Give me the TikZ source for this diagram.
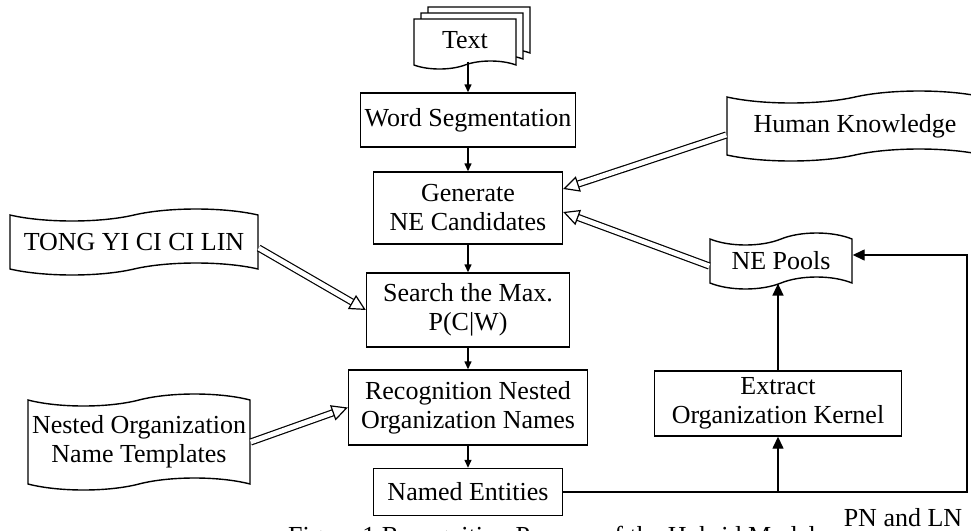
\documentclass[tikz,border=0pt]{standalone}
\usepackage{fontspec}
\setmainfont{Liberation Serif}
\usetikzlibrary{shapes.symbols,arrows.meta,calc}

\begin{document}
\begin{tikzpicture}[x=0.5pt,y=-0.5pt,
    every node/.style={font=\fontsize{13pt}{14.5pt}\selectfont},
    box/.style={draw, line width=0.7pt, fill=white, align=center, inner sep=0pt},
    paper/.style={tape, draw, line width=0.7pt, fill=white, align=center, inner sep=0pt, tape bend height=6pt},
    docpage/.style={paper, tape bend top=none, minimum width=51pt, minimum height=25pt, tape bend height=4pt},
    arr/.style={line width=0.7pt, -{Triangle[length=4pt,width=3.5pt]}},
    bigarr/.style={line width=0.7pt, -{Triangle[length=6pt,width=5.5pt]}},
    dblarr/.style={double, line width=0.6pt, double distance=2.4pt, -{Triangle[open, fill=white, length=8pt, width=8pt]}}]
    \useasboundingbox (0,0) rectangle (971,531);
    \clip (0,0) rectangle (971,531);
    % the stack of text pages
    \node[docpage] (txtC) at (479,28) {};
    \node[docpage] (txtB) at (472,34) {};
    \node[docpage] (txt) at (465,40) {Text};
    % main column
    \node[box, minimum width=107.5pt, minimum height=27pt] (ws) at (468,120) {Word Segmentation};
    \node[box, minimum width=94.5pt, minimum height=36pt] (gen) at (468,208) {Generate\\NE Candidates};
    \node[box, minimum width=101.5pt, minimum height=37pt] (srch) at (468,310) {Search the Max.\\P(C|W)};
    \node[box, minimum width=119.5pt, minimum height=37.5pt] (recog) at (468,407.5) {Recognition Nested\\Organization Names};
    \node[box, minimum width=94.5pt, minimum height=23.5pt] (named) at (468,492) {Named Entities};
    \node[box, minimum width=123.5pt, minimum height=32.5pt] (extract) at (778,403.5) {Extract\\Organization Kernel};
    % resources
    \node[paper, minimum width=128pt, minimum height=35pt] (hk) at (855,126) {Human Knowledge};
    \node[paper, minimum width=71pt, minimum height=28pt] (pools) at (781,261) {NE Pools};
    \node[paper, minimum width=124pt, minimum height=33pt] (tyccl) at (134,242) {TONG YI CI CI LIN};
    \node[paper, minimum width=111pt, minimum height=48pt] (nested) at (139,442) {Nested Organization\\Name Templates};

    \draw[arr] (txt.south -| ws.north) -- (ws.north);
    \draw[arr] (ws.south) -- (gen.north);
    \draw[arr] (gen.south) -- (srch.north);
    \draw[arr] (srch.south) -- (recog.north);
    \draw[arr] (recog.south) -- (named.north);

    \draw[dblarr] ($(hk.west)+(0,9)$) -- ($(gen.east)+(0,-19)$);
    \draw[dblarr] ($(pools.west)+(0,5)$) -- ($(gen.east)+(0,4)$);
    \draw[dblarr] ($(tyccl.east)+(0,6)$) -- (srch.west);
    \draw[dblarr] (nested.east) -- (recog.west);

    % feedback of PN and LN
    \coordinate (turn) at (967,492);
    \coordinate (split) at (extract.south |- named.east);
    \draw[bigarr] (named.east) -- (turn) |- ([yshift=3pt]pools.east);
    \draw[bigarr] (split) -- (extract.south);
    \draw[bigarr] (extract.north) -- (extract.north |- pools.south);

    \node (pnln) at (903,518) {PN and LN};
    \node[anchor=base] (cap) at (552,544) {Figure 1 Recognition Process of the Hybrid Model};
\end{tikzpicture}
\end{document}
